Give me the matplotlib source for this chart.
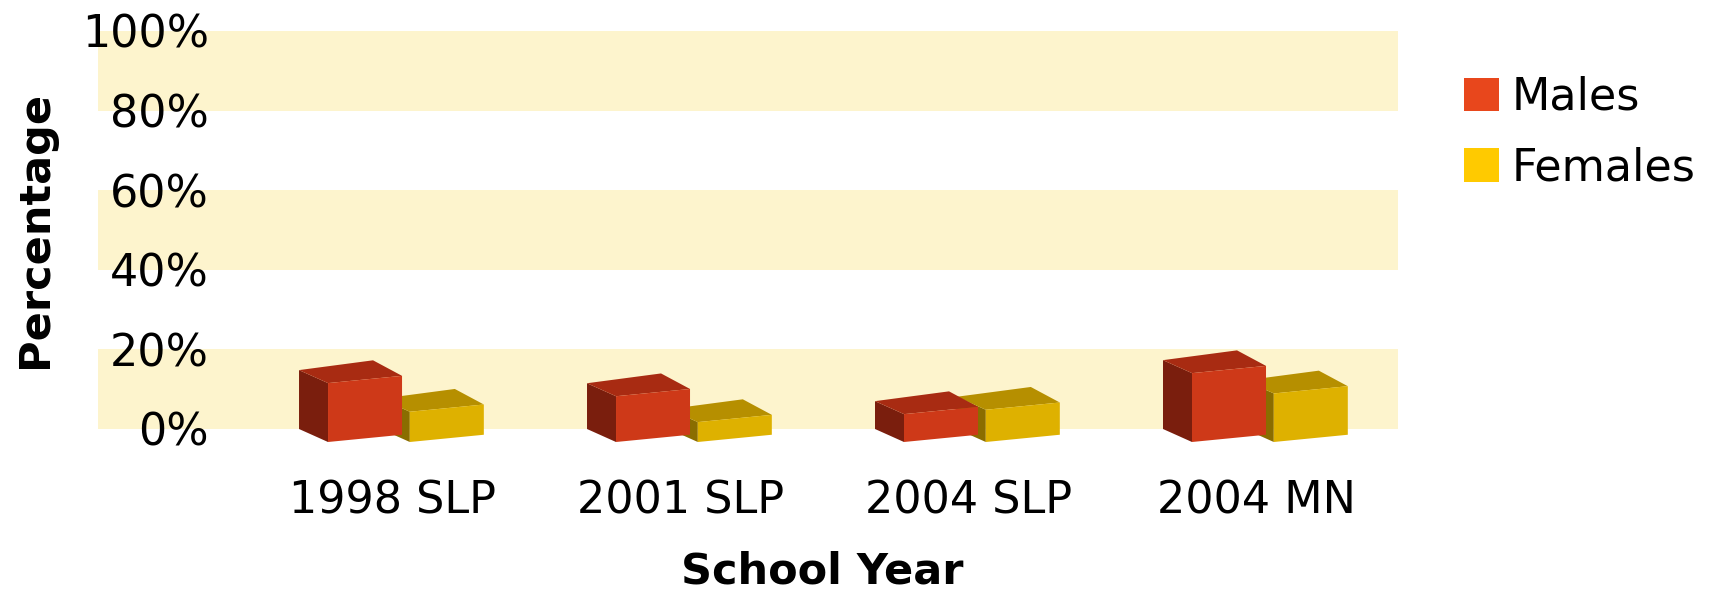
import matplotlib
matplotlib.use("Agg")
import matplotlib.pyplot as plt
from matplotlib.patches import Polygon, Patch
from matplotlib.transforms import IdentityTransform
import numpy as np

categories = ["1998 SLP", "2001 SLP", "2004 SLP", "2004 MN"]
males = [14.8, 11.5, 7.0, 17.3]
females = [7.6, 5.0, 8.1, 12.2]
series_names = ["Males", "Females"]
yticks = [0, 20, 40, 60, 80, 100]
ytick_labels = ["0%", "20%", "40%", "60%", "80%", "100%"]

W, H, DPI = 1713, 594, 100
fig = plt.figure(figsize=(W / DPI, H / DPI), dpi=DPI)
ax = fig.add_axes([98 / W, (H - 429) / H, 1300 / W, 398 / H])
ax.set_xlim(-1.024, 3.49)
ax.set_ylim(0, 100)
for s in ax.spines.values():
    s.set_visible(False)

band = "#FDF4CD"
for lo in (0, 40, 80):
    ax.axhspan(lo, lo + 20, color=band, lw=0, zorder=0)

FS = 32
ax.set_yticks(yticks)
ax.set_yticklabels(ytick_labels)
ax.tick_params(axis="y", length=0, pad=-80, labelsize=FS)
x = np.arange(len(categories))
ax.set_xticks(x)
ax.set_xticklabels(categories)
ax.tick_params(axis="x", length=0, pad=36, labelsize=FS)
for lab in ax.get_yticklabels():
    lab.set_zorder(5)

ylab = ax.set_ylabel("Percentage", fontsize=31, fontweight="bold")
ylab.set_va("center")
ax.yaxis.set_label_coords(-0.0485, 0.5025)
xlab = ax.set_xlabel("School Year", fontsize=31, fontweight="bold")
xlab.set_va("center")
ax.xaxis.set_label_coords(0.557, -0.357)

bar_w = 0.257          # data units (front face width)
offsets = {"Males": -0.326, "Females": -0.042}   # back-left x relative to category
depth = (29.0, -13.0)  # px shift from back to front (display coords)
slant = 0.098

colors = {
    "Males": ("#CE3918", "#A82B12", "#7A1E0D"),
    "Females": ("#DEB100", "#B68F00", "#8A6D00"),
}
legend_colors = {"Males": "#E8471C", "Females": "#FFCA00"}

fig.canvas.draw()
td = ax.transData


def draw_box(xc, v, name):
    front_c, top_c, side_c = colors[name]
    bx = xc + offsets[name]
    B = td.transform((bx, 0))
    Bt = td.transform((bx, v))
    Br = td.transform((bx + bar_w, 0))
    w = Br[0] - B[0]
    h = Bt[1] - B[1]
    s = slant * w
    dx, dy = depth
    F = np.array([B[0] + dx, B[1] + dy])
    FLB = F
    FRB = F + [w, s]
    FRT = F + [w, s + h]
    FLT = F + [0, h]
    BLB = F - [dx, dy]
    BLT = BLB + [0, h]
    BRT = BLB + [w, s * 1.35 + h]
    kw = dict(transform=IdentityTransform(), clip_on=False, lw=0, zorder=3)
    ax.add_patch(Polygon([FLB, FLT, BLT, BLB], closed=True, fc=side_c, **kw))
    ax.add_patch(Polygon([FLT, FRT, BRT, BLT], closed=True, fc=top_c, **kw))
    ax.add_patch(Polygon([FLB, FRB, FRT, FLT], closed=True, fc=front_c, **kw))


for i in range(len(categories)):
    draw_box(x[i], females[i], "Females")
    draw_box(x[i], males[i], "Males")

handles = [Patch(fc=legend_colors[n], ec="none") for n in series_names]
fig.legend(handles, series_names, loc="upper left",
           bbox_to_anchor=(1464 / W, 1 - 76 / H), frameon=False,
           fontsize=FS, handlelength=0.78, handleheight=0.78,
           handletextpad=0.3, labelspacing=0.62, borderaxespad=0,
           borderpad=0)

fig.savefig("out.png", dpi=DPI)
